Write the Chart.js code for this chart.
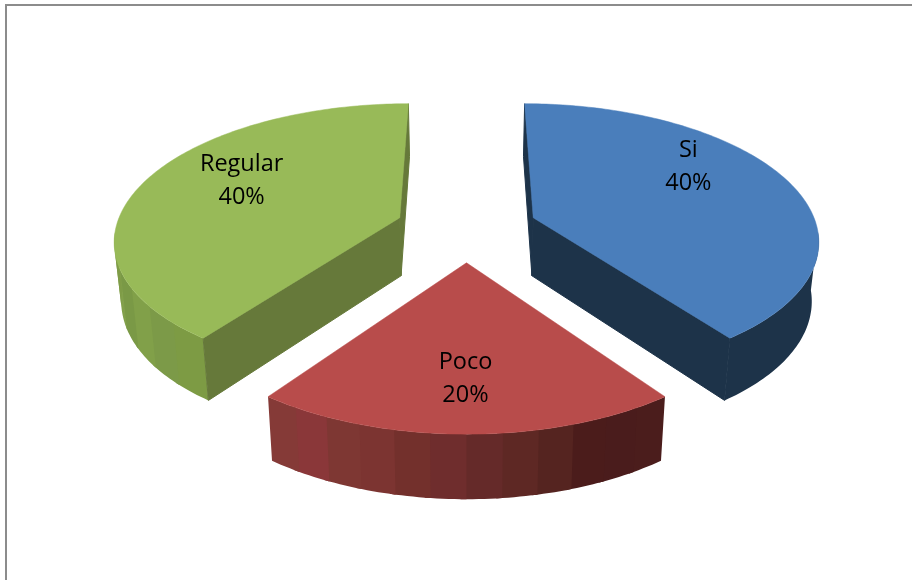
<!DOCTYPE html>
<html>
<head>
<meta charset="utf-8">
<script src="https://cdn.jsdelivr.net/npm/chart.js@4"></script>
<style>
  body { margin: 0; background: #fff; }
  canvas { display: block; }
</style>
</head>
<body>
<canvas id="chartPie" width="912" height="580"></canvas>
<script>
const categories = ["Si", "Poco", "Regular"];
const values = [40, 20, 40];
const topColors = ["#4a7ebb", "#b84c4b", "#98ba58"];
const wallColors = ["#1d3349", "#4b1d1c", "#66793a"];

// facets along the rim, starting at the beginning of each slice
const rimColors = [
  ["#1d3349"],
  ["#4b1d1c", "#4a1c1c", "#4b1c1b", "#552420", "#5e2824", "#652a29",
   "#6f2d2d", "#73302c", "#7c3431", "#7e3733", "#8a3739", "#853a37"],
  ["#7d9b44", "#7c9a48", "#81a049", "#7a9946", "#82a04b", "#7f9c47", "#84a04c", "#84a04c"],
];
const rimStep = [144, 6, 8];

const scaleX = 1.42;
const scaleY = 0.67;
const tilt = 0.15;
const labelShift = [[1, -28], [-1, 20], [-4, -14]];

// squashes the round pie into the tilted plate of the reference
function project(arc, u, v, lower) {
  const w = 1 - tilt * v;
  const px = scaleX * arc.outerRadius * u / w;
  const py = scaleY * arc.outerRadius * v / w;
  return {
    x: arc.x + px * (lower ? 0.98 : 1),
    y: arc.y + py + (lower ? 58.4 + 5.3 * v : 0),
  };
}

function slicePlace(arc) {
  const mid = (arc.startAngle + arc.endAngle) / 2;
  const e = arc.options.offset / arc.outerRadius;
  return { du: Math.cos(mid) * e, dv: Math.sin(mid) * e, mid };
}

function poly(ctx, pts, color, line) {
  ctx.beginPath();
  pts.forEach((p, i) => (i ? ctx.lineTo(p.x, p.y) : ctx.moveTo(p.x, p.y)));
  ctx.closePath();
  ctx.fillStyle = color;
  ctx.fill();
  if (line) {
    ctx.strokeStyle = color;
    ctx.lineWidth = line;
    ctx.stroke();
  }
}

const pie3d = {
  id: "pie3d",
  beforeDraw(chart) {
    const ctx = chart.ctx;
    ctx.fillStyle = "#8c8c8c";
    ctx.fillRect(5, 4, 907, 2);
    ctx.fillRect(5, 4, 2, 576);
  },
  beforeDatasetDraw(chart, args) {
    const ctx = chart.ctx;
    const arcs = chart.getDatasetMeta(args.index).data;
    arcs.forEach((arc, i) => {
      const { du, dv } = slicePlace(arc);
      const at = (a, lower) => project(arc, du + Math.cos(a), dv + Math.sin(a), lower);
      const apex = (lower) => project(arc, du, dv, lower);
      const step = Math.PI / 180;

      const facet = (rimStep[i] * Math.PI) / 180;
      let n = 0;
      for (let f = arc.startAngle; f < arc.endAngle - 1e-6; f += facet) {
        // runs one step into the next facet so no seam shows
        const end = Math.min(f + facet + step, arc.endAngle);
        const upper = [];
        const below = [];
        for (let a = f; a < end + step; a += step) {
          const b = Math.min(a, end);
          if (Math.sin(b) < 0.1) continue; // the back of the rim is hidden
          upper.push(at(b, false));
          below.unshift(at(b, true));
        }
        if (upper.length > 1) poly(ctx, upper.concat(below), rimColors[i][n % rimColors[i].length]);
        n++;
      }

      // cut faces, only the ones turned to the viewer
      if (-Math.cos(arc.startAngle) > -0.001) {
        poly(ctx, [apex(false), at(arc.startAngle, false), at(arc.startAngle, true), apex(true)], wallColors[i], 1);
      }
      if (Math.cos(arc.endAngle) > -0.001) {
        poly(ctx, [apex(false), at(arc.endAngle, false), at(arc.endAngle, true), apex(true)], wallColors[i], 1);
      }

      const face = [apex(false)];
      for (let a = arc.startAngle; a < arc.endAngle; a += step) face.push(at(a, false));
      face.push(at(arc.endAngle, false));
      poly(ctx, face, topColors[i], 0.5);
    });
    return false;
  },
  afterDatasetsDraw(chart) {
    const ctx = chart.ctx;
    const total = values.reduce((s, n) => s + n, 0);
    ctx.fillStyle = "#000";
    ctx.font = '23.5px "Open Sans"';
    ctx.textAlign = "center";
    ctx.textBaseline = "middle";
    chart.getDatasetMeta(0).data.forEach((arc, i) => {
      const { du, dv, mid } = slicePlace(arc);
      const p = project(arc, du + Math.cos(mid) * 0.6, dv + Math.sin(mid) * 0.6, false);
      const x = p.x + labelShift[i][0];
      const y = p.y + labelShift[i][1];
      ctx.fillText(categories[i], x, y - 16);
      ctx.fillText(Math.round((values[i] / total) * 100) + "%", x, y + 17);
    });
  },
};

new Chart(document.getElementById("chartPie"), {
  type: "pie",
  data: {
    labels: categories,
    datasets: [
      {
        data: values,
        backgroundColor: topColors,
        borderWidth: 0,
        offset: 50,
      },
    ],
  },
  options: {
    responsive: false,
    animation: false,
    events: [],
    radius: 200,
    layout: { padding: { left: 21, bottom: 124 } },
    plugins: {
      legend: { display: false },
      tooltip: { enabled: false },
    },
  },
  plugins: [pie3d],
});
</script>
</body>
</html>
